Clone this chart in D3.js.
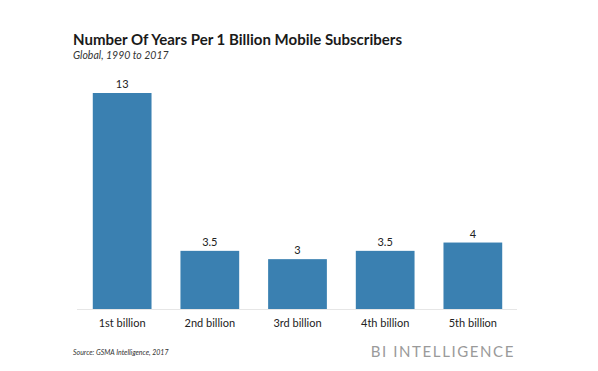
<!DOCTYPE html>
<html>
<head>
<meta charset="utf-8">
<script src="https://cdn.jsdelivr.net/npm/d3@7.9.0/dist/d3.min.js"></script>
<style>
  body { margin: 0; background: #fff; }
  svg { display: block; font-family: Lato, "Open Sans", sans-serif; }
</style>
</head>
<body>
<div id="chart"></div>
<script>
const categories = ['1st billion', '2nd billion', '3rd billion', '4th billion', '5th billion'];
const years = [13, 3.5, 3, 3.5, 4];
const valueLabels = ['13', '3.5', '3', '3.5', '4'];

const width = 598;
const height = 371;

const svg = d3.select('#chart')
  .append('svg')
  .attr('width', width)
  .attr('height', height);

const x = d3.scaleBand()
  .domain(categories)
  .range([77, 518])
  .paddingInner(0.33)
  .paddingOuter(0.18);

const y = d3.scaleLinear()
  .domain([0, 13])
  .range([309, 93]);

// title
svg.append('text')
  .attr('x', 73)
  .attr('y', 45)
  .attr('font-size', 16)
  .attr('font-weight', 'bold')
  .attr('fill', '#1a1a1a')
  .attr('textLength', 329)
  .attr('lengthAdjust', 'spacingAndGlyphs')
  .text('Number Of Years Per 1 Billion Mobile Subscribers');

svg.append('text')
  .attr('x', 73)
  .attr('y', 59)
  .attr('font-size', 10.5)
  .attr('font-style', 'italic')
  .attr('fill', '#333')
  .text('Global, 1990 to 2017');

// baseline
svg.append('line')
  .attr('x1', 77).attr('x2', 517)
  .attr('y1', y(0) + 0.5).attr('y2', y(0) + 0.5)
  .attr('stroke', '#e6e6e6');

svg.append('g')
  .selectAll('rect')
  .data(years)
  .join('rect')
  .attr('x', (d, i) => x(categories[i]))
  .attr('y', d => y(d))
  .attr('width', x.bandwidth())
  .attr('height', d => y(0) - y(d))
  .attr('fill', '#3a80b1');

svg.append('g')
  .selectAll('text')
  .data(years)
  .join('text')
  .attr('x', (d, i) => x(categories[i]) + x.bandwidth() / 2)
  .attr('y', d => y(d) - 5)
  .attr('text-anchor', 'middle')
  .attr('font-size', 11)
  .attr('fill', '#222')
  .text((d, i) => valueLabels[i]);

const xAxis = svg.append('g')
  .attr('transform', `translate(0, ${y(0)})`)
  .call(d3.axisBottom(x).tickSize(0).tickPadding(10));
xAxis.select('.domain').remove();
xAxis.selectAll('text')
  .attr('font-size', 11)
  .attr('font-family', 'Lato, "Open Sans", sans-serif')
  .attr('fill', '#222');

// footer
svg.append('text')
  .attr('x', 73)
  .attr('y', 355)
  .attr('font-size', 7)
  .attr('font-style', 'italic')
  .attr('fill', '#333')
  .text('Source: GSMA Intelligence, 2017');

svg.append('text')
  .attr('x', 515)
  .attr('y', 357)
  .attr('text-anchor', 'end')
  .attr('font-size', 15)
  .attr('letter-spacing', 1.6)
  .attr('fill', '#9a9a9a')
  .text('BI INTELLIGENCE');
</script>
</body>
</html>
